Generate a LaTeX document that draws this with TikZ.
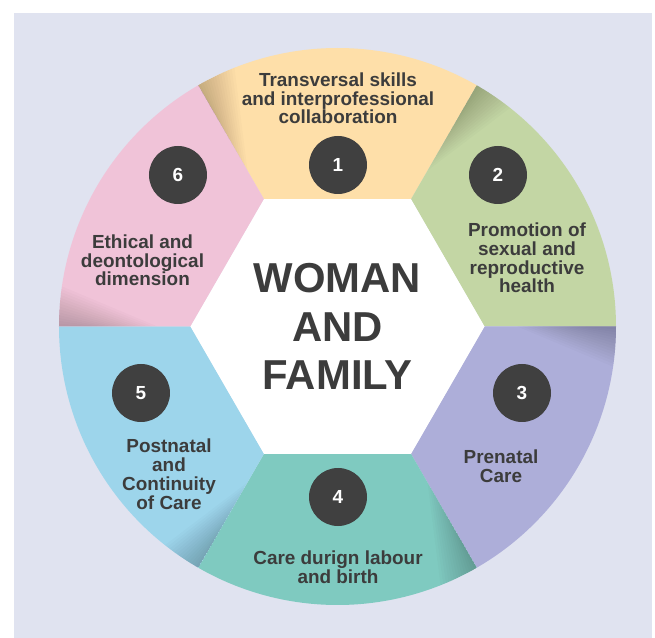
\documentclass[tikz,border=0pt]{standalone}
\usepackage{fontspec}
\setmainfont{Liberation Sans}
\definecolor{paper}{HTML}{E0E3F0}
\definecolor{segA}{HTML}{FEDFA9}
\definecolor{segB}{HTML}{C3D6A4}
\definecolor{segC}{HTML}{ADAED9}
\definecolor{segD}{HTML}{7FCAC0}
\definecolor{segE}{HTML}{9DD5EB}
\definecolor{segF}{HTML}{F0C3D8}
\definecolor{disc}{HTML}{404040}
\definecolor{ink}{HTML}{3C3C3C}
\begin{document}
\begin{tikzpicture}[x=1bp,y=1bp,
  seglabel/.style={font=\bfseries\fontsize{19}{19}\selectfont, text=ink,
    align=center, anchor=base, inner sep=0pt},
  numdisc/.style={circle, fill=disc, minimum size=58bp, inner sep=0pt,
    text=white, font=\bfseries\fontsize{19}{19}\selectfont},
  title/.style={font=\bfseries\fontsize{42}{49}\selectfont, text=ink,
    align=center, anchor=base, inner sep=0pt}]
\def\R{278.5}
\def\hr{147}
% page and panel
\useasboundingbox (-337.5,-311.5) rectangle (317.5,326.5);
\fill[white] (-337.5,-311.5) rectangle (317.5,326.5);
\fill[paper] (-323.5,-311.5) rectangle (314.5,313.5);
% six ring segments
\foreach \a/\c in {60/segA, 0/segB, -60/segC, -120/segD, 180/segE, 120/segF} {
  \fill[\c] (\a:\hr) -- (\a:\R) arc[start angle=\a, end angle=\a+60, radius=\R]
    -- (\a+60:\hr) -- cycle;
}
% soft shadow cast by each segment on its neighbour
\foreach \a in {60, 0, -60, -120, 180, 120} {
  \begin{scope}
    \clip (\a:\hr) -- (\a:\R) arc[start angle=\a, end angle=\a+60, radius=\R]
      -- (\a+60:\hr) -- cycle;
    \foreach \k in {1,...,14} {
      \fill[black, opacity=0.014] (\a+60:250-5*\k) -- (\a+60-0.6*\k:\R+2)
        -- (\a+60:\R+2) -- cycle;
    }
  \end{scope}
}
% white hexagon in the middle
\fill[white] (0:\hr) -- (60:\hr) -- (120:\hr) -- (180:\hr) -- (240:\hr)
  -- (300:\hr) -- cycle;
\node[title] (centre) at (0,-63.5) {WOMAN\\AND\\FAMILY};
% numbered discs
\node[numdisc] (n1) at (0.5,161.5) {1};
\node[numdisc] (n2) at (160.5,151.5) {2};
\node[numdisc] (n3) at (184.5,-66.5) {3};
\node[numdisc] (n4) at (0.5,-170.5) {4};
\node[numdisc] (n5) at (-196.5,-66.5) {5};
\node[numdisc] (n6) at (-159.5,151.5) {6};
% segment labels (anchored at the baseline of their last line)
\node[seglabel] (l1) at (0.5,202.5) {Transversal skills\\and interprofessional\\collaboration};
\node[seglabel] (l2) at (189.5,33.5) {Promotion of\\sexual and\\reproductive\\health};
\node[seglabel] (l3) at (163.5,-155.5) {Prenatal\\Care};
\node[seglabel] (l4) at (0.5,-256.5) {Care durign labour\\and birth};
\node[seglabel] (l5) at (-168.5,-182.5) {Postnatal\\and\\Continuity\\of Care};
\node[seglabel] (l6) at (-195,40.5) {Ethical and\\deontological\\dimension};
\end{tikzpicture}
\end{document}
